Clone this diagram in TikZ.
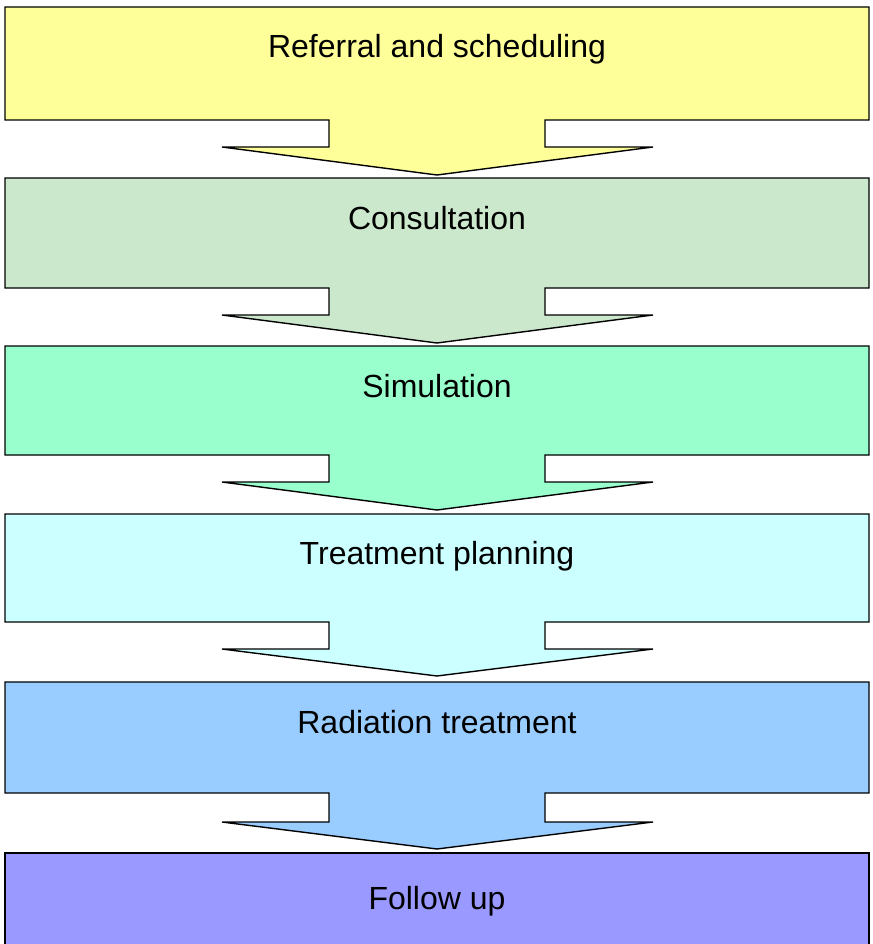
\documentclass[tikz,border=0pt]{standalone}
\usepackage{fontspec}
\setmainfont{Liberation Sans}
\definecolor{cA}{RGB}{255,255,153}
\definecolor{cB}{RGB}{204,232,204}
\definecolor{cC}{RGB}{153,255,204}
\definecolor{cD}{RGB}{204,255,255}
\definecolor{cE}{RGB}{153,204,255}
\definecolor{cF}{RGB}{153,153,255}
\tikzset{
  stage/.style={draw=black, line width=1.4pt, line join=miter},
  lbl/.style={anchor=base, inner sep=0pt, font=\fontsize{32}{38}\selectfont}
}
% #1 colour, #2 top, #3 bottom, #4 stem end, #5 tip
\newcommand{\stagearrow}[5]{%
  \path[stage, fill=#1] (5,#2) -- (869,#2) -- (869,#3) -- (545,#3) -- (545,#4) -- (653,#4)
    -- (437,#5) -- (222,#4) -- (329,#4) -- (329,#3) -- (5,#3) -- cycle;}
\begin{document}
\begin{tikzpicture}[x=1pt,y=-1pt]
\useasboundingbox (0,0) rectangle (872,944);
\clip (0,0) rectangle (872,944);
\stagearrow{cA}{7}{120}{147}{175}
\stagearrow{cB}{178}{288}{315}{343}
\stagearrow{cC}{346}{455}{482}{510}
\stagearrow{cD}{514}{622}{649}{676}
\stagearrow{cE}{682}{793}{822}{849}
\path[stage, fill=cF] (5,853) rectangle (869,970);
\node[lbl] (t1) at (437,58) {Referral and scheduling};
\node[lbl] (t2) at (437,229) {Consultation};
\node[lbl] (t3) at (437,397) {Simulation};
\node[lbl] (t4) at (437,564) {Treatment planning};
\node[lbl] (t5) at (437,733) {Radiation treatment};
\node[lbl] (t6) at (437,909) {Follow up};
\end{tikzpicture}
\end{document}
